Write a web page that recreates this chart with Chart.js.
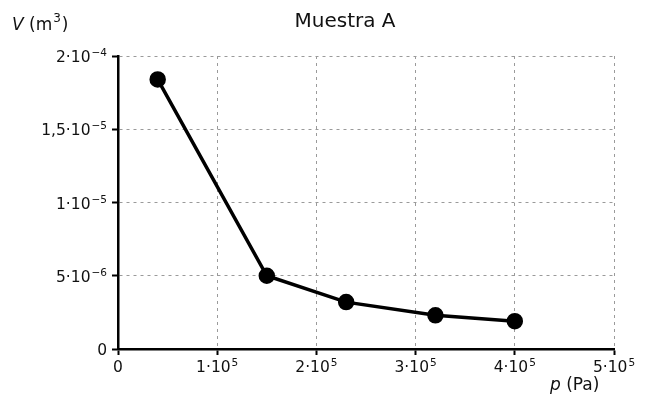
<!DOCTYPE html>
<html>
<head>
<meta charset="utf-8">
<script src="https://cdn.jsdelivr.net/npm/chart.js@4"></script>
<style>
html,body{margin:0;padding:0;background:#fff;}
#wrap{width:652px;height:403px;}
</style>
</head>
<body>
<div id="wrap"><canvas id="c" width="652" height="403"></canvas></div>
<script>
const pressure = [0.4e5, 1.5e5, 2.3e5, 3.2e5, 4.0e5];
const volume = [1.84e-5, 5.0e-6, 3.2e-6, 2.3e-6, 1.9e-6];
const xTickValues = [0, 1e5, 2e5, 3e5, 4e5, 5e5];
// [base, superscript]
const xTickLabels = [['0', ''], ['1·10', '5'], ['2·10', '5'], ['3·10', '5'], ['4·10', '5'], ['5·10', '5']];
const yTickValues = [0, 5e-6, 1e-5, 1.5e-5, 2e-5];
const yTickLabels = [['0', ''], ['5·10', '−6'], ['1·10', '−5'], ['1,5·10', '−5'], ['2·10', '−4']];
const titleText = 'Muestra A';

const FONT = '"DejaVu Sans", "Liberation Sans", sans-serif';
const BASE_FONT = '15.5px ' + FONT;
const SUP_FONT = '10.5px ' + FONT;

function labelWidth(ctx, lab) {
  ctx.font = BASE_FONT;
  let w = ctx.measureText(lab[0]).width;
  if (lab[1]) { ctx.font = SUP_FONT; w += ctx.measureText(lab[1]).width + 1; }
  return w;
}
function drawLabel(ctx, lab, x, baseline) {
  ctx.textAlign = 'left';
  ctx.font = BASE_FONT;
  ctx.fillText(lab[0], x, baseline);
  if (lab[1]) {
    const w = ctx.measureText(lab[0]).width;
    ctx.font = SUP_FONT;
    ctx.fillText(lab[1], x + w + 1, baseline - 6);
  }
}

const textPlugin = {
  id: 'texts',
  afterDraw(chart) {
    const ctx = chart.ctx;
    ctx.save();
    ctx.fillStyle = '#111';
    ctx.textBaseline = 'alphabetic';
    const xs = chart.scales.x, ys = chart.scales.y;
    xTickValues.forEach((v, i) => {
      const lab = xTickLabels[i];
      const px = xs.getPixelForValue(v);
      const w = labelWidth(ctx, lab);
      drawLabel(ctx, lab, px - w / 2, 372);
    });
    yTickValues.forEach((v, i) => {
      const lab = yTickLabels[i];
      const py = ys.getPixelForValue(v);
      const w = labelWidth(ctx, lab);
      drawLabel(ctx, lab, 107 - w, py + 6);
    });
    // title
    ctx.font = '20px ' + FONT;
    ctx.textAlign = 'center';
    ctx.fillText(titleText, 345, 27);
    // y label
    ctx.textAlign = 'left';
    ctx.font = 'italic 17px ' + FONT;
    ctx.fillText('V', 12, 30);
    let w = ctx.measureText('V').width;
    ctx.font = '17px ' + FONT;
    ctx.fillText(' (m', 12 + w, 30);
    w += ctx.measureText(' (m').width;
    ctx.font = '12px ' + FONT;
    ctx.fillText('3', 12 + w + 1, 22);
    w += ctx.measureText('3').width + 2;
    ctx.font = '17px ' + FONT;
    ctx.fillText(')', 12 + w, 30);
    // x label
    ctx.font = 'italic 17px ' + FONT;
    ctx.fillText('p', 550, 390);
    w = ctx.measureText('p').width;
    ctx.font = '17px ' + FONT;
    ctx.fillText(' (Pa)', 550 + w, 390);
    ctx.restore();
  }
};

new Chart(document.getElementById('c'), {
  type: 'scatter',
  data: {
    datasets: [{
      data: pressure.map((p, i) => ({x: p, y: volume[i]})),
      showLine: true,
      borderColor: '#000',
      backgroundColor: '#000',
      borderWidth: 3.5,
      pointRadius: 6.5,
      pointHoverRadius: 6.5,
      tension: 0
    }]
  },
  options: {
    responsive: false,
    animation: false,
    layout: {padding: {top: 56, right: 38, left: 0, bottom: 0}},
    plugins: {legend: {display: false}, tooltip: {enabled: false}, title: {display: false}},
    scales: {
      x: {
        type: 'linear', min: 0, max: 5e5,
        afterBuildTicks: s => { s.ticks = xTickValues.map(v => ({value: v})); },
        afterFit: s => { s.height = 54; },
        ticks: {display: false},
        grid: {color: '#9a9a9a', lineWidth: 1, tickColor: '#000', tickWidth: 2, tickLength: 6},
        border: {color: '#000', width: 2.5, dash: [3, 4]}
      },
      y: {
        type: 'linear', min: 0, max: 2e-5,
        afterBuildTicks: s => { s.ticks = yTickValues.map(v => ({value: v})); },
        afterFit: s => { s.width = 118; },
        ticks: {display: false},
        grid: {color: '#9a9a9a', lineWidth: 1, tickColor: '#000', tickWidth: 2, tickLength: 6},
        border: {color: '#000', width: 2.5, dash: [3, 4]}
      }
    }
  },
  plugins: [textPlugin]
});
</script>
</body>
</html>
